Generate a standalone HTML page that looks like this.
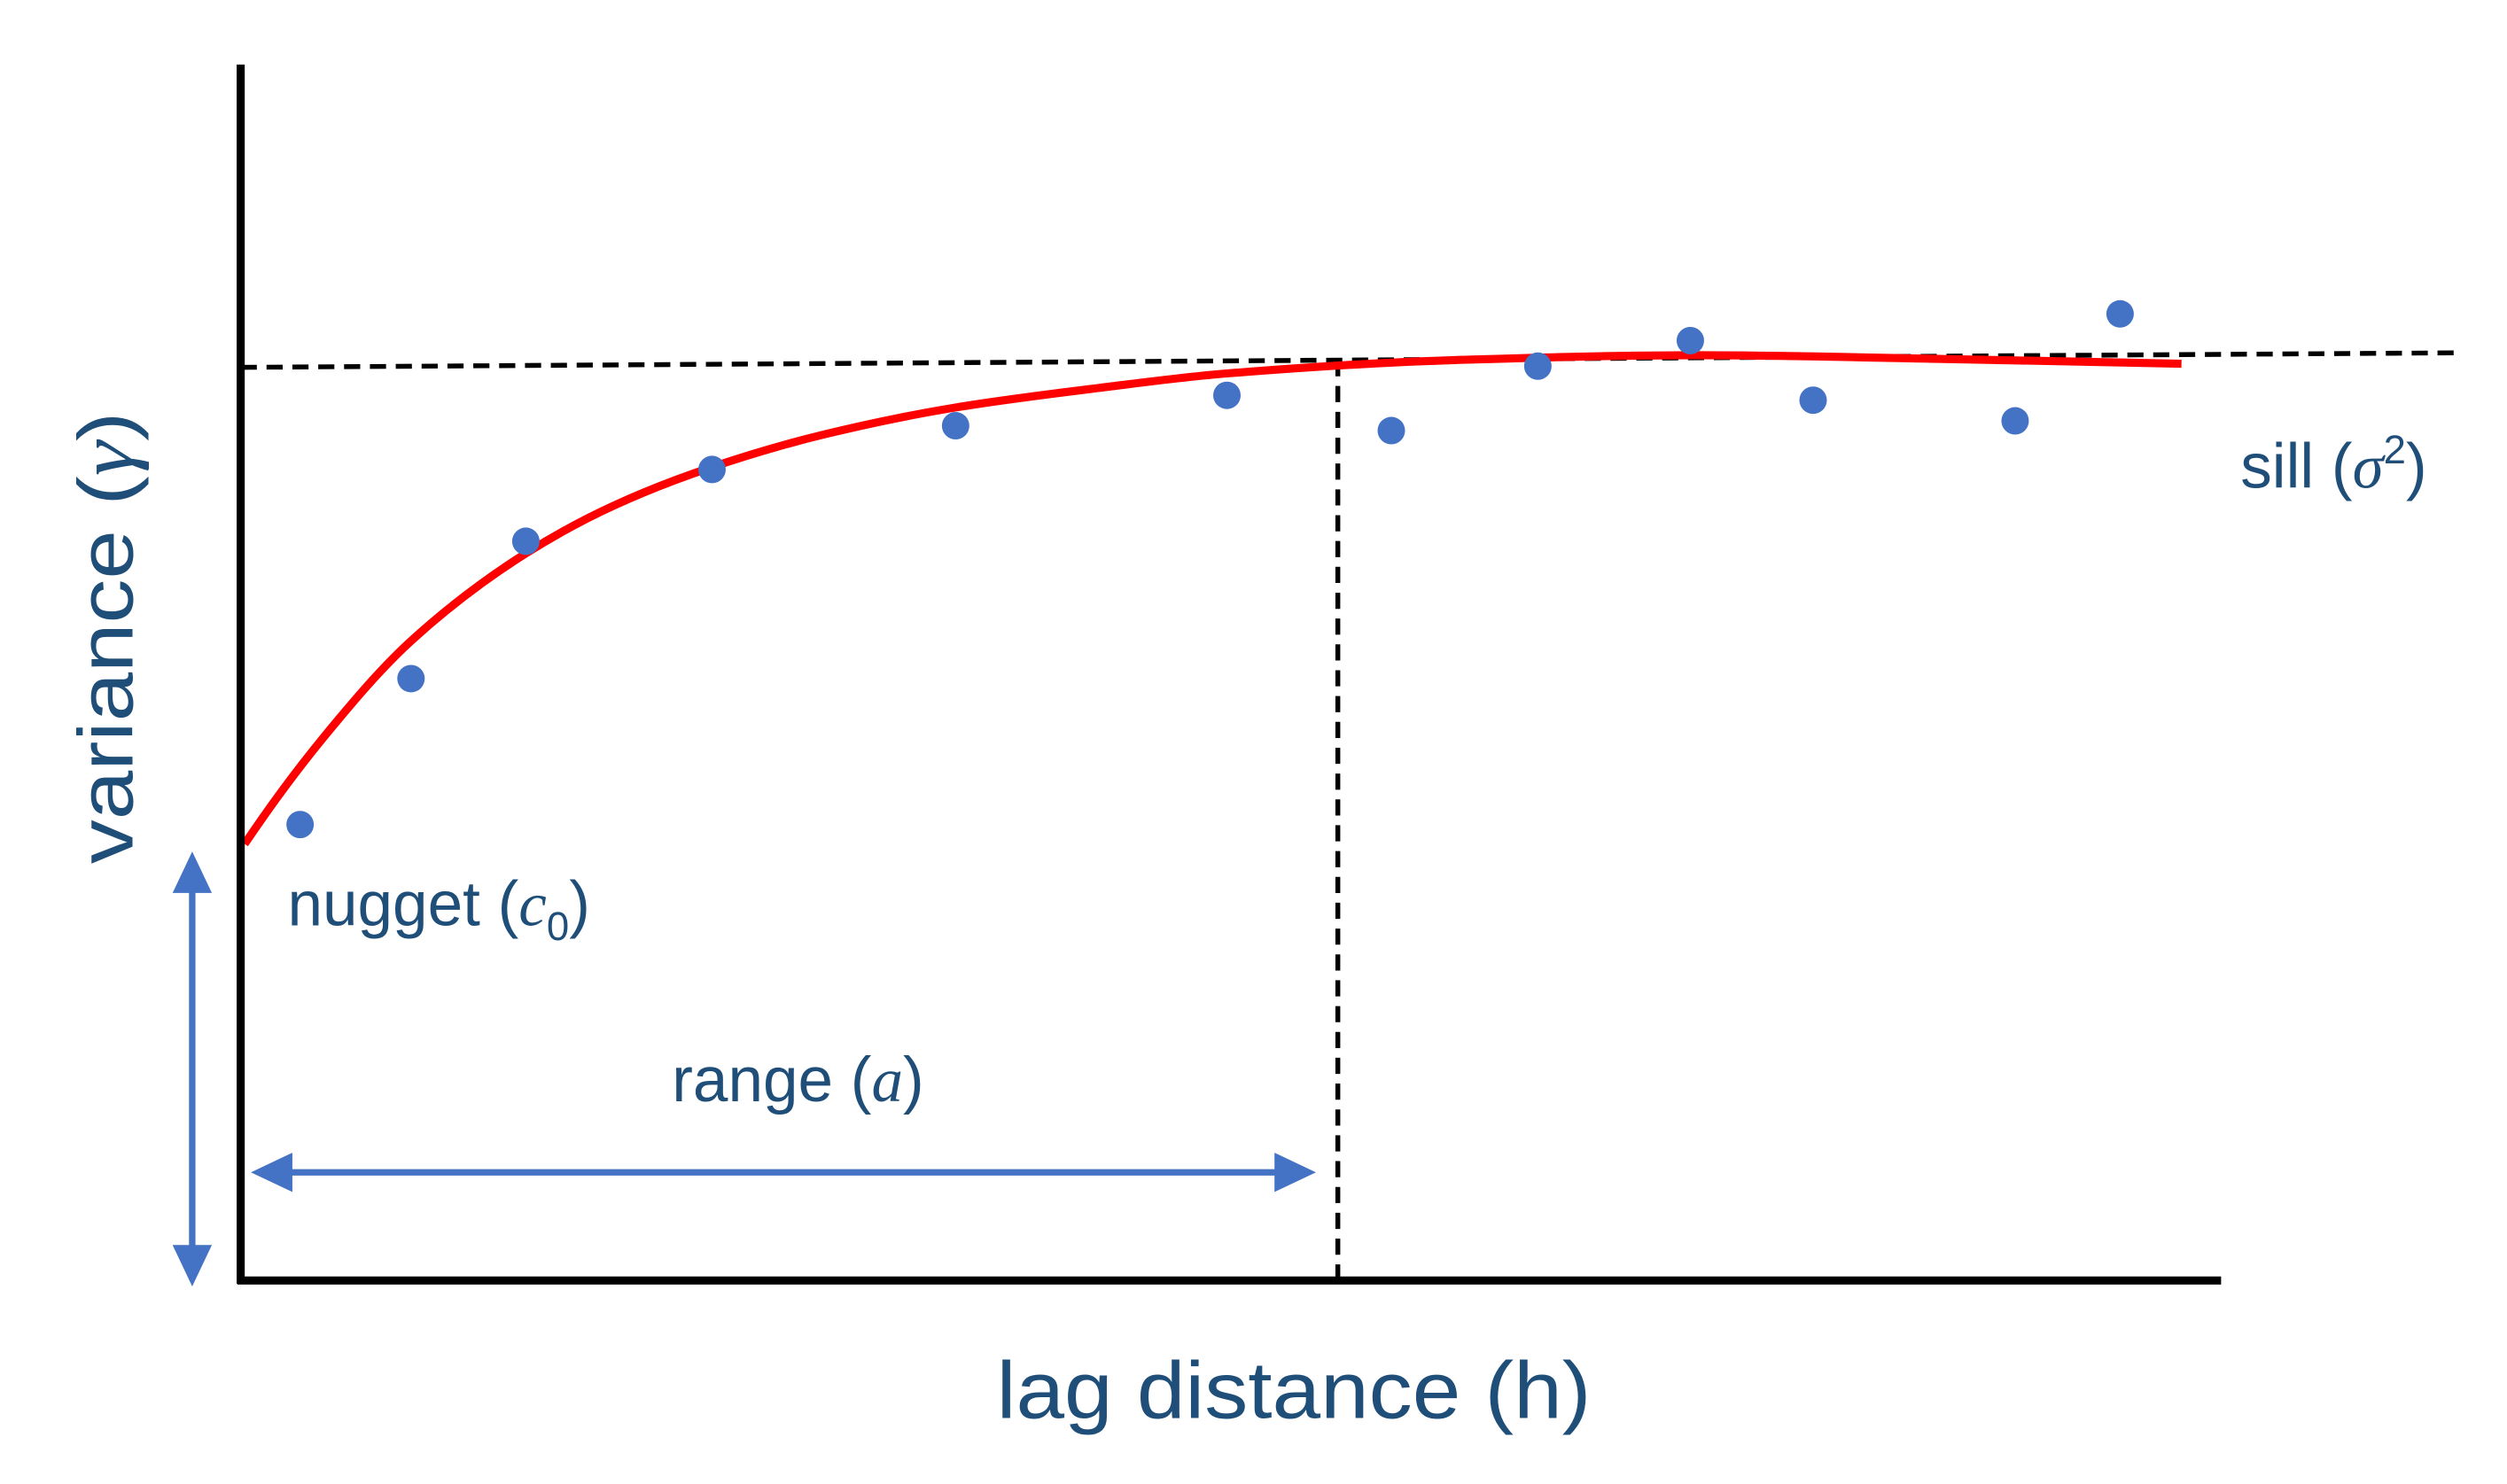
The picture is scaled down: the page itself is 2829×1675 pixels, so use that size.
<!DOCTYPE html>
<html><head><meta charset="utf-8"><style>
html,body{margin:0;padding:0;background:#fff;}
svg{display:block;}
text{font-family:"Liberation Sans",sans-serif;fill:#1f4e79;}
</style></head><body>
<svg id="chart" width="2829" height="1675" viewBox="0 0 1552 919" preserveAspectRatio="none" xmlns="http://www.w3.org/2000/svg">
<g id="marks"></g>
<text transform="translate(82,395) rotate(-90)" text-anchor="middle" font-size="48" textLength="280" lengthAdjust="spacingAndGlyphs">variance (<tspan font-family="Liberation Serif" font-style="italic">γ</tspan>)</text>
<text x="801" y="878" text-anchor="middle" font-size="50" textLength="368" lengthAdjust="spacingAndGlyphs">lag distance (h)</text>
<text x="178" y="573" font-size="39">nugget (<tspan font-family="Liberation Serif" font-style="italic">c</tspan><tspan font-size="25" dy="9">0</tspan><tspan dy="-9">)</tspan></text>
<text x="494" y="682" text-anchor="middle" font-size="39">range (<tspan font-family="Liberation Serif" font-style="italic">a</tspan>)</text>
<text x="1387" y="302" font-size="39">sill (<tspan font-family="Liberation Serif" font-style="italic">σ</tspan><tspan font-size="25" dy="-15">2</tspan><tspan dy="15">)</tspan></text>
</svg>
<script>
const lags = [3.0, 8.6, 14.4, 23.8, 36.1, 49.8, 58.1, 65.5, 73.2, 79.4, 89.6, 94.9];
const gammas = [37.5, 49.5, 60.8, 66.7, 70.3, 72.8, 69.9, 75.2, 77.3, 72.4, 70.7, 79.5];
const modelLags = [0.2, 4.2, 8.6, 14.4, 18.8, 23.8, 29.5, 36.1, 43.3, 49.8, 61.3, 73.5, 85.7, 98.0];
const modelGammas = [35.9, 44.7, 52.6, 59.8, 63.7, 66.9, 69.6, 71.8, 73.4, 74.6, 75.7, 76.1, 75.8, 75.4];
const sillLags = [0, 112.2];
const sillGammas = [75.1, 76.3];
const rangeLag = 55.4;

const NS = "http://www.w3.org/2000/svg";
const X = v => 149 + v * 12.26;
const Y = v => 793 - v * 7.53;
const g = document.getElementById("marks");
function mk(tag, attrs) {
  const e = document.createElementNS(NS, tag);
  for (const k in attrs) e.setAttribute(k, attrs[k]);
  g.appendChild(e);
  return e;
}
let sl = mk("line", {x1: X(sillLags[0]), y1: Y(sillGammas[0]), x2: X(sillLags[1]), y2: Y(sillGammas[1]), stroke: "#000", "stroke-width": 3, "stroke-dasharray": "10,6"});


const sillAt = sillGammas[0] + (sillGammas[1] - sillGammas[0]) * rangeLag / sillLags[1];
let rl = mk("line", {x1: X(rangeLag), y1: Y(sillAt), x2: X(rangeLag), y2: 793, stroke: "#000", "stroke-width": 3, "stroke-dasharray": "10,6"});


const px = modelLags.map(X), py = modelGammas.map(Y);
const n = px.length;
const sl2 = [];
for (let i = 0; i < n - 1; i++) sl2.push((py[i + 1] - py[i]) / (px[i + 1] - px[i]));
const m = new Array(n);
m[0] = sl2[0] * 1.1; m[n - 1] = sl2[n - 2];
for (let i = 1; i < n - 1; i++) {
  const h0 = px[i] - px[i - 1], h1 = px[i + 1] - px[i];
  if (sl2[i - 1] * sl2[i] <= 0) m[i] = (sl2[i - 1] + sl2[i]) / 2 * 0.5;
  else { const w1 = 2 * h1 + h0, w2 = h1 + 2 * h0; m[i] = (w1 + w2) / (w1 / sl2[i - 1] + w2 / sl2[i]); }
}
let d = "M" + px[0] + "," + py[0];
for (let i = 0; i < n - 1; i++) {
  const h = px[i + 1] - px[i];
  d += " C" + (px[i] + h / 3) + "," + (py[i] + m[i] * h / 3) + " " + (px[i + 1] - h / 3) + "," + (py[i + 1] - m[i + 1] * h / 3) + " " + px[i + 1] + "," + py[i + 1];
}
let curve = mk("path", {d: d, fill: "none", stroke: "#ff0000", "stroke-width": 5});


lags.forEach((l, i) => {
  const c = mk("circle", {cx: X(l), cy: Y(gammas[i]), r: 8.5, fill: "#4472c4"});
  
  
});
let ya = mk("line", {x1: 149, y1: 40, x2: 149, y2: 795, stroke: "#000", "stroke-width": 5});


let xa = mk("line", {x1: 147, y1: 793, x2: 1375, y2: 793, stroke: "#000", "stroke-width": 5});


let va = mk("path", {d: "M119,540 L119,784 M110,551 L119,532 L128,551 Z M110,773 L119,792 L128,773 Z", stroke: "#4472c4", "stroke-width": 4, fill: "#4472c4"});


let ha = mk("path", {d: "M168,726 L802,726 M179,717 L160,726 L179,735 Z M791,717 L810,726 L791,735 Z", stroke: "#4472c4", "stroke-width": 4, fill: "#4472c4"});


</script>
</body></html>
